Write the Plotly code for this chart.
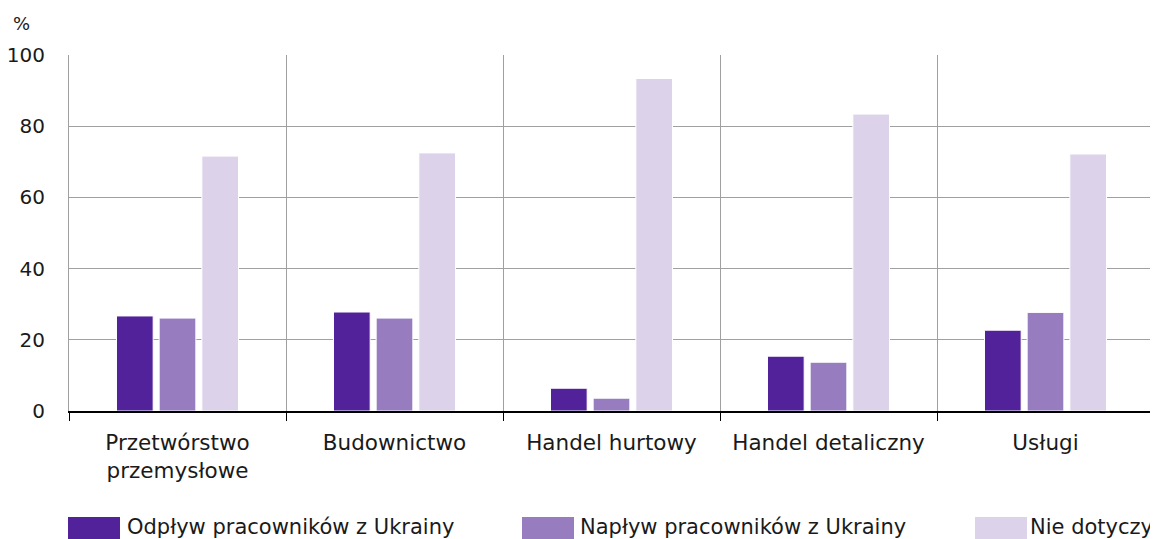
import plotly.graph_objects as go

categories = ["Przetwórstwo<br>przemysłowe", "Budownictwo", "Handel hurtowy", "Handel detaliczny", "Usługi"]
series_names = ["Odpływ pracowników z Ukrainy", "Napływ pracowników z Ukrainy", "Nie dotyczy"]
odplyw = [26.7, 27.8, 6.4, 15.4, 22.7]
naplyw = [26.1, 26.1, 3.6, 13.7, 27.7]
nie_dotyczy = [71.6, 72.5, 93.4, 83.4, 72.2]
colors = ["#52229a", "#977cc0", "#dcd3ea"]
y_ticks = [0, 20, 40, 60, 80, 100]

# page body has an 8px margin; figure is sized/offset to compensate
OFF = 8
W, H = 1158 - OFF, 539 - OFF
L, R, T, B = 69 - OFF, 4, 55 - OFF, 128
pw, ph = W - L - R, H - T - B

def px_x(s):
    return (s - OFF - L) / pw

def px_y(s):
    return (H - B - (s - OFF)) / ph

FONT = "DejaVu Sans, sans-serif"
TXT = "#1a1a1a"
GRID = "#a0a0a0"

fig = go.Figure()
for name, vals, c in zip(series_names, [odplyw, naplyw, nie_dotyczy], colors):
    fig.add_trace(go.Bar(x=categories, y=vals, name=name, marker_color=c,
                         marker_line=dict(color="white", width=1), showlegend=False))

fig.update_layout(
    width=W, height=H,
    margin=dict(l=L, r=R, t=T, b=B, autoexpand=False),
    paper_bgcolor="white", plot_bgcolor="white",
    barmode="group", bargap=0.41, bargroupgap=0.14,
    font=dict(family=FONT, size=20, color=TXT),
    xaxis=dict(tickson="boundaries", showgrid=True, gridcolor=GRID, gridwidth=1,
               ticks="outside", ticklen=8, tickcolor="black", showline=True,
               linecolor="black", linewidth=1.5, automargin=False,
               ticklabelstandoff=11,
               tickfont=dict(size=21.5, color=TXT)),
    yaxis=dict(range=[0, 100], tickvals=y_ticks, showgrid=True, gridcolor=GRID,
               gridwidth=1, zeroline=False, showline=True, mirror=True,
               linecolor=GRID, linewidth=1, ticks="", automargin=False,
               ticklabelstandoff=19, tickfont=dict(size=20, color=TXT)),
)

fig.add_annotation(text="%", xref="paper", yref="paper", x=px_x(21), y=px_y(23),
                   xanchor="center", yanchor="middle", showarrow=False,
                   font=dict(size=18, color=TXT))

sw_x = [68, 522, 975]
txt_x = [125, 578, 1028]
for name, c, sx, tx in zip(series_names, colors, sw_x, txt_x):
    fig.add_shape(type="rect", xref="paper", yref="paper",
                  x0=px_x(sx), x1=px_x(sx + 52), y0=px_y(539), y1=px_y(517),
                  fillcolor=c, line_width=0)
    fig.add_annotation(text=name, xref="paper", yref="paper", x=px_x(tx), y=px_y(527),
                       xanchor="left", yanchor="middle", showarrow=False,
                       font=dict(size=21, color=TXT))

fig.write_html("out.html")
